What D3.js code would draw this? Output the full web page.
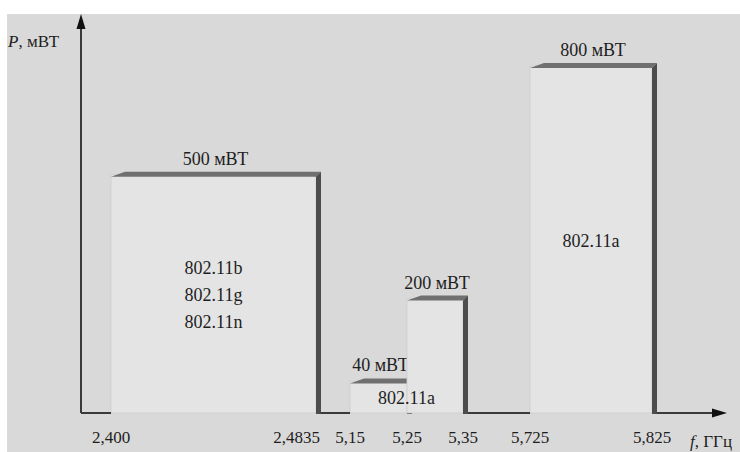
<!DOCTYPE html>
<html>
<head>
<meta charset="utf-8">
<script src="https://cdn.jsdelivr.net/npm/d3@7"></script>
<style>
  html, body { margin: 0; padding: 0; background: #fff; }
  svg { display: block; }
</style>
</head>
<body>
<svg id="chart" width="740" height="452"></svg>
<script>
// frequency ticks (GHz) and their printed labels
const freqValues = [2.4, 2.4835, 5.15, 5.25, 5.35, 5.725, 5.825];
const freqLabels = ["2,400", "2,4835", "5,15", "5,25", "5,35", "5,725", "5,825"];

// power bars
const barFrom = [2.4, 5.15, 5.25, 5.725];
const barTo = [2.4835, 5.25, 5.35, 5.825];
const barPower = [500, 40, 200, 800];
const barLabels = ["500 мВТ", "40 мВТ", "200 мВТ", "800 мВТ"];

// standards written inside the bands
const stdFrom = [2.4, 5.15, 5.725];
const stdTo = [2.4835, 5.35, 5.825];
const stdNames = [["802.11b", "802.11g", "802.11n"], ["802.11a"], ["802.11a"]];

const svg = d3.select("#chart")
  .attr("font-family", "'Liberation Serif', 'Times New Roman', 'DejaVu Serif', serif")
  .attr("fill", "#1e1e1e");
const Y0 = 413, AX = 81;

// schematic (not to scale) axes
const x = d3.scaleLinear().domain(freqValues).range([111, 316, 350, 407, 463, 530, 652]);
const y = d3.scalePow().exponent(0.8).domain([0, 800]).range([Y0, 66]);

svg.append("rect").attr("x", 7).attr("y", 14).attr("width", 733).attr("height", 438).attr("fill", "#d9d9d9");

const bars = barPower.map((p, i) => ({ x0: x(barFrom[i]), x1: x(barTo[i]), top: y(p), label: barLabels[i] }));

const g = svg.append("g");
bars.forEach((b) => {
  g.append("rect").attr("x", b.x0).attr("y", b.top).attr("width", b.x1 - b.x0).attr("height", Y0 - b.top)
    .attr("fill", "#e4e4e4").attr("stroke", "#cdcdcd").attr("stroke-width", 0.8);
  // top bevel
  g.append("path").attr("fill", "#707070")
    .attr("d", `M${b.x0},${b.top + 2}L${b.x0 + 14},${b.top - 3}L${b.x1 + 5},${b.top - 3}L${b.x1},${b.top + 2}Z`);
  // right side
  g.append("path").attr("fill", "#4c4c4c")
    .attr("d", `M${b.x1},${b.top + 2}L${b.x1 + 5},${b.top - 3}L${b.x1 + 5},${Y0 + 1}L${b.x1},${Y0 + 1}Z`);
  g.append("text").attr("x", (b.x0 + b.x1) / 2 + 2).attr("y", b.top - 10)
    .attr("text-anchor", "middle").attr("font-size", 18).text(b.label);
});

// baseline pieces between the bars + axes
const line = svg.append("g").attr("stroke", "#3a3a3a").attr("stroke-width", 2).attr("fill", "none");
line.append("line").attr("x1", AX).attr("y1", Y0).attr("x2", AX).attr("y2", 24);
line.append("line").attr("x1", AX).attr("y1", Y0).attr("x2", bars[0].x0).attr("y2", Y0);
[[0, 1], [2, 3]].forEach(([a, c]) => {
  line.append("line").attr("x1", bars[a].x1 + 5).attr("y1", Y0).attr("x2", bars[c].x0).attr("y2", Y0);
});
line.append("line").attr("x1", bars[3].x1 + 5).attr("y1", Y0).attr("x2", 716).attr("y2", Y0);
svg.append("path").attr("fill", "#111").attr("d", `M${AX},14L${AX - 4.5},29L${AX + 4.5},29Z`);
svg.append("path").attr("fill", "#111").attr("d", `M727,${Y0}L712,${Y0 - 4.5}L712,${Y0 + 4.5}Z`);

// tick labels
svg.append("g").selectAll("text").data(freqValues).join("text")
  .attr("x", (d, i) => (i === 1 ? x(d) + 4 : x(d)))
  .attr("y", 443)
  .attr("text-anchor", (d, i) => (i === 1 ? "end" : "middle"))
  .attr("font-size", 17)
  .text((d, i) => freqLabels[i]);

// axis titles
const yt = svg.append("text").attr("x", 8).attr("y", 47).attr("font-size", 17);
yt.append("tspan").attr("font-style", "italic").text("P");
yt.append("tspan").text(", мВТ");
const xt = svg.append("text").attr("x", 690).attr("y", 447).attr("font-size", 17);
xt.append("tspan").attr("font-style", "italic").text("f");
xt.append("tspan").text(", ГГц");

// standards
stdNames.forEach((names, i) => {
  const low = d3.min(barPower.filter((p, j) => barFrom[j] >= stdFrom[i] && barTo[j] <= stdTo[i]));
  const cx = (x(stdFrom[i]) + x(stdTo[i])) / 2;
  const cy = (Y0 + y(low)) / 2;
  const step = 27;
  names.forEach((n, k) => {
    svg.append("text").attr("x", cx).attr("y", cy + (k - (names.length - 1) / 2) * step + 7)
      .attr("text-anchor", "middle").attr("font-size", 18).text(n);
  });
});
</script>
</body>
</html>
